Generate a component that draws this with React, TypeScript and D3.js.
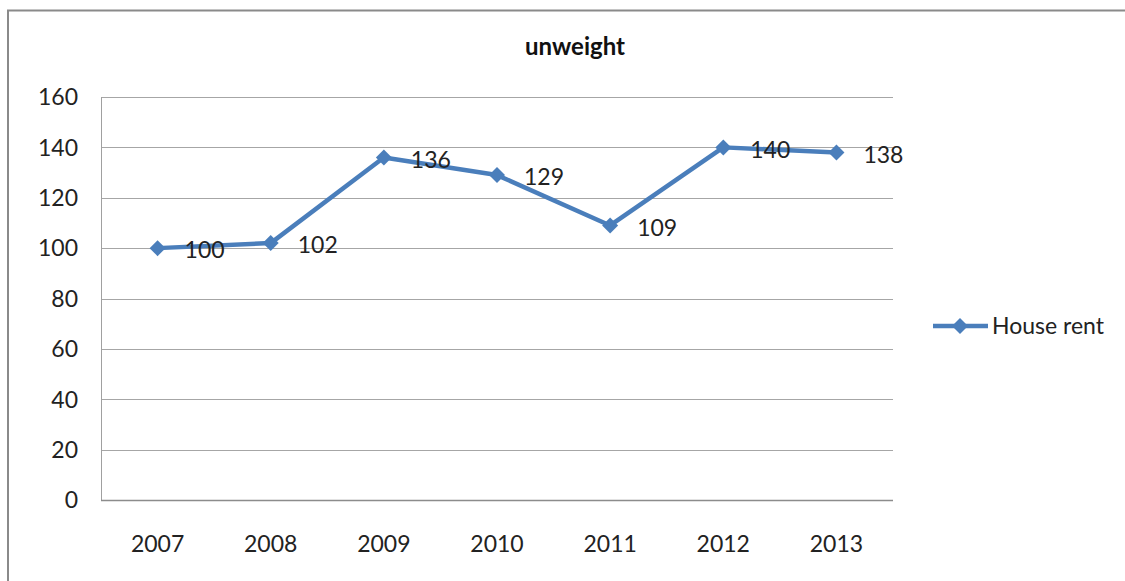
import React from "react";
import * as d3 from "d3";

const categories = ["2007", "2008", "2009", "2010", "2011", "2012", "2013"];
const houseRent = [100, 102, 136, 129, 109, 140, 138];
const yTicks = [0, 20, 40, 60, 80, 100, 120, 140, 160];
const seriesName = "House rent";
const title = "unweight";

const W = 1125;
const H = 581;
const plot = { left: 101, top: 97, right: 893, bottom: 500 };
const blue = "#4a7ebb";
const font = "Lato, 'Open Sans', sans-serif";

function Diamond({ x, y, r }: { x: number; y: number; r: number }) {
  return <path d={`M${x},${y - r}L${x + r},${y}L${x},${y + r}L${x - r},${y}Z`} fill={blue} />;
}

export default function App() {
  const x = d3.scaleBand().domain(categories).range([plot.left, plot.right]).paddingInner(0).paddingOuter(0);
  const y = d3.scaleLinear().domain([0, 160]).range([plot.bottom, plot.top]);
  const cx = (c: string) => (x(c) as number) + x.bandwidth() / 2;
  const line = d3
    .line<number>()
    .x((_, i) => cx(categories[i]))
    .y((d) => y(d));

  return (
    <svg
      width={W}
      height={H}
      style={{ position: "absolute", left: 0, top: 0, background: "#fff" }}
      fontFamily={font}
    >
      <rect x={0} y={0} width={W} height={H} fill="#fff" />
      {/* outer frame */}
      <path d={`M8,${H + 2}V10.5H${W + 2}`} fill="none" stroke="#8a8a8a" strokeWidth={2} />
      {/* gridlines */}
      {yTicks.slice(1).map((t) => (
        <line key={t} x1={plot.left} x2={plot.right} y1={Math.round(y(t)) + 0.5} y2={Math.round(y(t)) + 0.5} stroke="#a6a6a6" strokeWidth={1} />
      ))}
      {/* axes */}
      <line x1={plot.left + 0.5} x2={plot.left + 0.5} y1={plot.top} y2={plot.bottom} stroke="#a0a0a0" strokeWidth={1} />
      <line x1={plot.left} x2={plot.right} y1={plot.bottom + 0.5} y2={plot.bottom + 0.5} stroke="#8c8c8c" strokeWidth={1.5} />
      {/* y labels */}
      {yTicks.map((t) => (
        <text key={t} x={78} y={y(t)} dy="0.36em" textAnchor="end" fontSize={23} fill="#222">
          {t}
        </text>
      ))}
      {/* x labels */}
      {categories.map((c) => (
        <text key={c} x={cx(c)} y={552} textAnchor="middle" fontSize={23} fill="#222">
          {c}
        </text>
      ))}
      {/* title */}
      <text x={575} y={55} textAnchor="middle" fontSize={24} fontWeight="bold" fill="#111">
        {title}
      </text>
      {/* series */}
      <path d={line(houseRent) || ""} fill="none" stroke={blue} strokeWidth={4.5} strokeLinejoin="round" />
      {houseRent.map((v, i) => (
        <Diamond key={i} x={cx(categories[i])} y={y(v)} r={8} />
      ))}
      {houseRent.map((v, i) => (
        <text key={"l" + i} x={cx(categories[i]) + 27} y={y(v) + 2} dy="0.36em" fontSize={23} fill="#222">
          {v}
        </text>
      ))}
      {/* legend */}
      <line x1={933} x2={988} y1={326} y2={326} stroke={blue} strokeWidth={4.5} />
      <Diamond x={960} y={326} r={8} />
      <text x={992} y={326} dy="0.36em" fontSize={23} fill="#222">
        {seriesName}
      </text>
    </svg>
  );
}
